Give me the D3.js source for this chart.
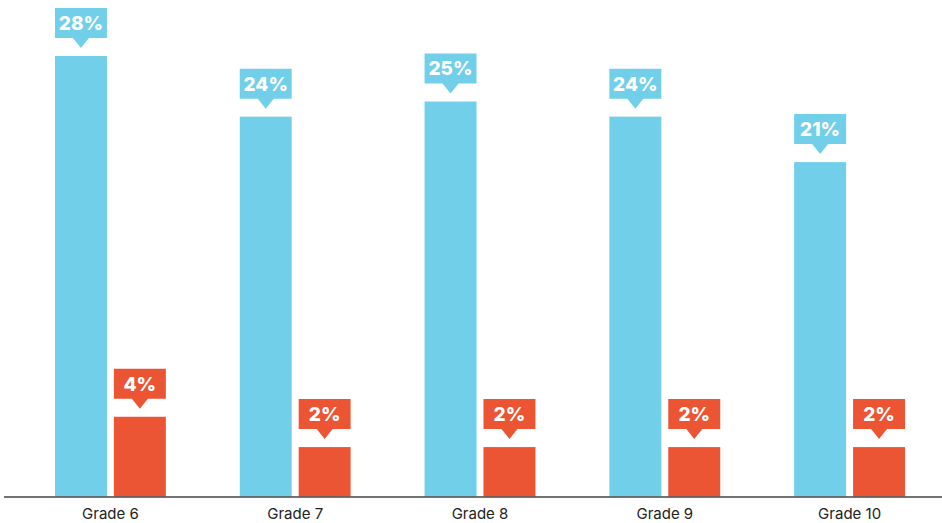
<!DOCTYPE html>
<html>
<head>
<meta charset="utf-8">
<script src="https://cdn.jsdelivr.net/npm/d3@7"></script>
<style>
  html, body { margin: 0; padding: 0; background: #ffffff; }
  svg { display: block; }
</style>
</head>
<body>
<svg id="chart" width="942" height="523"></svg>
<script>
const categories = ["Grade 6", "Grade 7", "Grade 8", "Grade 9", "Grade 10"];
const seriesNames = ["A", "B"];
const blueValues = [28, 24, 25, 24, 21];
const orangeValues = [4.2, 2.2, 2.2, 2.2, 2.2];
const blueLabels = ["28%", "24%", "25%", "24%", "21%"];
const orangeLabels = ["4%", "2%", "2%", "2%", "2%"];
const colors = ["#71cfea", "#ec5534"];

const W = 942, H = 523;
const baseline = 496.5;
const svg = d3.select("#chart");

const x0 = d3.scaleBand().domain(categories).range([18, 942]).paddingInner(0.4).paddingOuter(0.2);
const x1 = d3.scaleBand().domain(seriesNames).range([0, x0.bandwidth()]).paddingInner(0.118).paddingOuter(0);
const y = d3.scaleLinear().domain([-1.06, 28]).range([baseline, 56]);

const rows = categories.map((c, i) => ({
  cat: c,
  items: [
    { s: "A", v: blueValues[i], label: blueLabels[i], color: colors[0] },
    { s: "B", v: orangeValues[i], label: orangeLabels[i], color: colors[1] }
  ]
}));

const g = svg.selectAll("g.grp").data(rows).join("g")
  .attr("class", "grp")
  .attr("transform", d => `translate(${x0(d.cat)},0)`);

g.selectAll("rect.bar").data(d => d.items).join("rect")
  .attr("class", "bar")
  .attr("x", d => x1(d.s))
  .attr("y", d => y(d.v))
  .attr("width", x1.bandwidth())
  .attr("height", d => baseline - y(d.v))
  .attr("fill", d => d.color);

// callout labels
const bw = x1.bandwidth();
const boxH = 30, gapTip = 8, tipH = 10, tipHalf = 8;
const lab = g.selectAll("g.lab").data(d => d.items).join("g")
  .attr("class", "lab")
  .attr("transform", d => `translate(${x1(d.s)},${y(d.v)})`);

lab.append("path")
  .attr("d", d => {
    const bot = -gapTip - tipH, top = bot - boxH, cx = bw / 2;
    return `M0,${top}H${bw}V${bot}H${cx + tipHalf}L${cx},${-gapTip}L${cx - tipHalf},${bot}H0Z`;
  })
  .attr("fill", d => d.color);

lab.append("text")
  .attr("x", bw / 2)
  .attr("y", -gapTip - tipH - 8)
  .attr("text-anchor", "middle")
  .attr("fill", "#ffffff")
  .attr("font-family", "Inter, 'Open Sans', sans-serif")
  .attr("font-weight", 800)
  .attr("font-size", 19)
  .text(d => d.label);

// axis
const axis = svg.append("g").attr("transform", `translate(0,${baseline})`)
  .call(d3.axisBottom(x0).tickSize(0).tickPadding(12));
axis.select(".domain").remove();
axis.append("line").attr("x1", 4).attr("x2", 942).attr("y1", 0.5).attr("y2", 0.5)
  .attr("stroke", "#444").attr("stroke-width", 1.5);
axis.selectAll(".tick text")
  .attr("font-family", "Inter, Roboto, sans-serif")
  .attr("font-size", 15)
  .attr("fill", "#222");
</script>
</body>
</html>
